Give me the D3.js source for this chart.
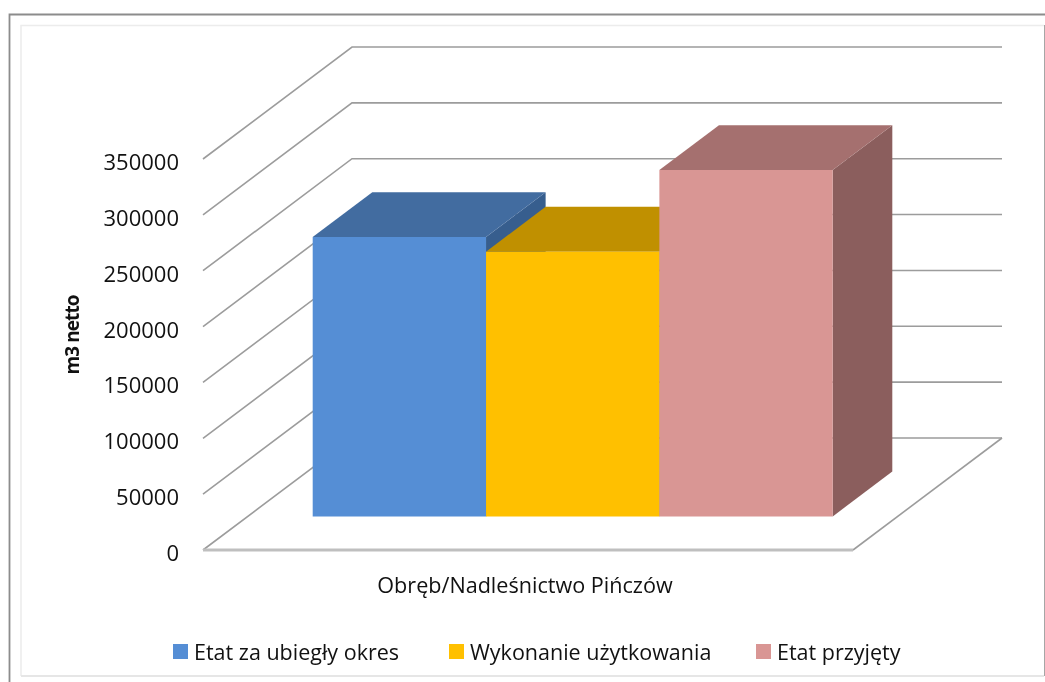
<!DOCTYPE html>
<html>
<head>
<meta charset="utf-8">
<script src="https://cdn.jsdelivr.net/npm/d3@7"></script>
<style>
  html, body { margin: 0; padding: 0; background: #fff; }
  svg { display: block; filter: blur(0.5px); }
  text { font-family: "Open Sans", sans-serif; fill: #111; }
</style>
</head>
<body>
<svg id="chart" width="1045" height="682"></svg>
<script>
const category = "Obręb/Nadleśnictwo Pińczów";
const seriesNames = ["Etat za ubiegły okres", "Wykonanie użytkowania", "Etat przyjęty"];
const seriesValues = [250000, 237000, 310000];
const tickValues = [0, 50000, 100000, 150000, 200000, 250000, 300000, 350000];
const frontColors = ["#558ed5", "#ffc000", "#d99694"];
const topColors = ["#426ca0", "#c09000", "#a5706f"];
const sideColors = ["#375e8e", "#a07800", "#8b5e5d"];
const legendX = [173, 449, 756];

const svg = d3.select("#chart");

const x = d3.scaleBand().domain(seriesNames).range([203, 853]).paddingInner(0).paddingOuter(0.375);
const y = d3.scaleLinear().domain([0, 350000]).range([550, 159]);

// oblique depth, 0 = front of the floor, 1 = back wall
const depthX = 149, depthY = 112;
const nearDepth = 0.3, farDepth = 0.7;
const px = (xv, d) => xv + depthX * d;
const py = (v, d) => y(v) - depthY * d;
const poly = pts => pts.map(p => p.join(",")).join(" ");

// frames
const frame = svg.append("g").attr("fill", "none");
frame.append("path").attr("d", "M9.5,682V14.5H1045").attr("stroke", "#8c8c8c").attr("stroke-width", 1.8);
frame.append("path").attr("d", "M1044.5,25V676").attr("stroke", "#a6a6a6").attr("stroke-width", 1);
frame.append("path").attr("d", "M21,676V25.5H1044").attr("stroke", "#ececec").attr("stroke-width", 1.5);
frame.append("path").attr("d", "M21,676H1044").attr("stroke", "#e6e6e6").attr("stroke-width", 2);

// grid on side wall and back wall
const grid = svg.append("g").attr("fill", "none").attr("stroke", "#9c9c9c").attr("stroke-width", 1.6);
grid.selectAll("path.wall")
  .data(tickValues)
  .enter()
  .append("path")
  .attr("class", "wall")
  .attr("d", d => `M${px(203, 0)},${py(d, 0)}L${px(203, 1)},${py(d, 1)}L${px(853, 1)},${py(d, 1)}`);

// floor
grid.append("path")
  .attr("d", `M${px(853, 1)},${py(0, 1)}L${px(853, 0)},${py(0, 0)}`);
grid.append("path")
  .attr("d", `M${px(203, 0)},${py(0, 0)}L${px(853, 0)},${py(0, 0)}`)
  .attr("stroke", "#bfbfbf")
  .attr("stroke-width", 3);

// bars, left to right so the next one covers the side of the previous
seriesNames.forEach((name, i) => {
  const v = seriesValues[i];
  const x0 = x(name), x1 = x0 + x.bandwidth();
  const g = svg.append("g").attr("class", "bar");

  g.append("polygon")
    .attr("fill", sideColors[i])
    .attr("points", poly([
      [px(x1, nearDepth), py(0, nearDepth)],
      [px(x1, farDepth), py(0, farDepth)],
      [px(x1, farDepth), py(v, farDepth)],
      [px(x1, nearDepth), py(v, nearDepth)]
    ]));
  g.append("polygon")
    .attr("fill", topColors[i])
    .attr("points", poly([
      [px(x0, nearDepth), py(v, nearDepth)],
      [px(x0, farDepth), py(v, farDepth)],
      [px(x1, farDepth), py(v, farDepth)],
      [px(x1, nearDepth), py(v, nearDepth)]
    ]));
  g.append("polygon")
    .attr("fill", frontColors[i])
    .attr("points", poly([
      [px(x0, nearDepth), py(0, nearDepth)],
      [px(x1, nearDepth), py(0, nearDepth)],
      [px(x1, nearDepth), py(v, nearDepth)],
      [px(x0, nearDepth), py(v, nearDepth)]
    ]));
});

// value axis
const axis = svg.append("g")
  .attr("transform", "translate(179,3.5)")
  .call(d3.axisLeft(y).tickValues(tickValues).tickFormat(d3.format("d")).tickSize(0).tickPadding(0));
axis.select(".domain").remove();
axis.selectAll("text").style("font-family", '"Open Sans", sans-serif').style("font-size", "22px").attr("fill", "#111");

svg.append("text")
  .attr("transform", "translate(79,335) rotate(-90)")
  .attr("text-anchor", "middle")
  .style("font-size", "19px")
  .style("font-weight", "bold")
  .style("letter-spacing", "-0.9px")
  .text("m3 netto");

svg.append("text")
  .attr("x", 525)
  .attr("y", 593)
  .attr("text-anchor", "middle")
  .style("font-size", "21.6px")
  .text(category);

// legend
const legend = svg.selectAll("g.legend")
  .data(seriesNames)
  .enter()
  .append("g")
  .attr("class", "legend")
  .attr("transform", (d, i) => `translate(${legendX[i]},644)`);
legend.append("rect")
  .attr("width", 15)
  .attr("height", 15)
  .attr("fill", (d, i) => frontColors[i]);
legend.append("text")
  .attr("x", 21)
  .attr("y", 16)
  .style("font-size", "21.5px")
  .text(d => d);
</script>
</body>
</html>
